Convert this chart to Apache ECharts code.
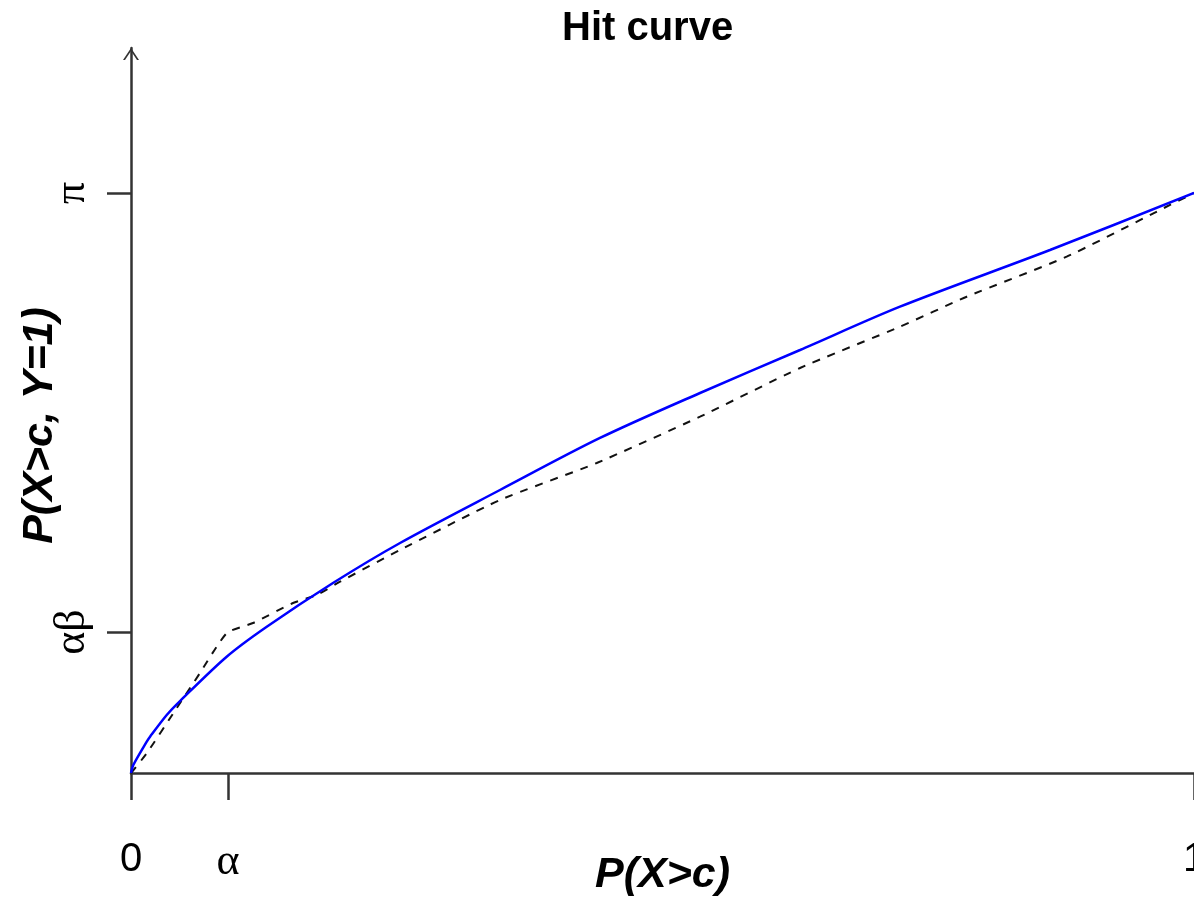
<!DOCTYPE html>
<html lang="en">
<head>
    <meta charset="UTF-8">
    <title>Hit curve</title>
    <script src="https://cdn.jsdelivr.net/npm/echarts@6/dist/echarts.min.js"></script>
    <style>
        html, body{
            margin: 0;
            padding: 0;
            background: #fff;
        }
        #chart{
            width: 1194px;
            height: 899px;
        }
    </style>
</head>
<body>
<div id="chart"></div>
<script>
    /*hit curve (blue, solid)*/
    var hitX = [0, 0.0022, 0.0148, 0.0179, 0.0336, 0.0461, 0.090, 0.1277, 0.190, 0.2531, 0.3471, 0.4412, 0.5353, 0.6294, 0.7234, 0.8645, 1];
    var hitY = [0, 0.0138, 0.054, 0.0626, 0.100, 0.1241, 0.2005, 0.2522, 0.3276, 0.3966, 0.4879, 0.5776, 0.6552, 0.7293, 0.8040, 0.9017, 1];

    /*dashed curve*/
    var dashX = [0, 0.0148, 0.043, 0.0649, 0.0806, 0.0913, 0.1148, 0.1524, 0.1747, 0.1966, 0.2531, 0.3471, 0.4381, 0.5353, 0.6294, 0.7234, 0.7862, 0.8802, 0.968, 1];
    var dashY = [0, 0.034, 0.112, 0.1724, 0.2178, 0.2431, 0.2586, 0.2931, 0.3069, 0.3298, 0.3845, 0.4707, 0.5345, 0.6143, 0.6983, 0.7695, 0.8212, 0.8902, 0.9707, 1];

    /*ticks*/
    var xTickValues = [0, 0.0913, 1];
    var xTickLabels = ['{s|0}', '{g|α}', '{s|1}'];
    var yTickValues = [0.2431, 1];
    var yTickLabels = ['αβ', 'π'];

    function pairs(xs, ys){
        var out = [];
        for (var i = 0; i < xs.length; i++) {
            out.push([xs[i], ys[i]]);
        }
        return out;
    }

    var axisColor = '#333';
    var option = {
        animation: false,
        title: {
            text: 'Hit curve',
            left: 562,
            top: 9,
            padding: 0,
            textStyle: {
                fontFamily: 'Liberation Sans',
                fontWeight: 'bold',
                fontSize: 40,
                color: '#000'
            }
        },
        grid: {
            left: 131,
            right: 0,
            top: 48,
            bottom: 126,
            containLabel: false,
            outerBoundsMode: 'none'
        },
        xAxis: {
            type: 'value',
            min: 0,
            max: 1,
            name: 'P(X>c)',
            nameLocation: 'middle',
            nameGap: 81,
            nameMoveOverlap: false,
            nameTextStyle: {
                fontFamily: 'Liberation Sans',
                fontWeight: 'bold',
                fontStyle: 'italic',
                fontSize: 43,
                color: '#000'
            },
            splitLine: {show: false},
            axisLine: {
                onZero: false,
                lineStyle: {color: axisColor, width: 2.5}
            },
            axisTick: {
                show: true,
                length: 27,
                customValues: xTickValues,
                lineStyle: {color: axisColor, width: 2.5}
            },
            axisLabel: {
                customValues: xTickValues,
                margin: 67,
                formatter: function(v){
                    return xTickLabels[xTickValues.indexOf(v)];
                },
                rich: {
                    s: {fontFamily: 'Liberation Sans', fontSize: 40, color: '#000'},
                    g: {fontFamily: 'Liberation Serif', fontSize: 44, color: '#000'}
                }
            }
        },
        yAxis: {
            type: 'value',
            min: 0,
            max: 1.25,
            name: 'P(X>c, Y=1)',
            nameLocation: 'middle',
            nameGap: 69,
            nameMoveOverlap: false,
            nameTextStyle: {
                fontFamily: 'Liberation Sans',
                fontWeight: 'bold',
                fontStyle: 'italic',
                fontSize: 43,
                color: '#000',
                padding: [0, 30, 0, 0]
            },
            splitLine: {show: false},
            axisLine: {
                show: true,
                symbol: ['none', 'path://M0,12 L8,0 L16,12 L14,12 L8,3 L2,12 Z'],
                symbolSize: [16, 12],
                symbolOffset: [0, -6],
                lineStyle: {color: axisColor, width: 2.5}
            },
            axisTick: {
                show: true,
                length: 24,
                customValues: yTickValues,
                lineStyle: {color: axisColor, width: 2.5}
            },
            axisLabel: {
                customValues: yTickValues,
                rotate: 90,
                margin: 37,
                fontFamily: 'Liberation Serif',
                fontSize: 44,
                color: '#000',
                formatter: function(v){
                    return yTickLabels[yTickValues.indexOf(v)];
                }
            }
        },
        series: [
            {
                name: 'dashed',
                type: 'line',
                data: pairs(dashX, dashY),
                showSymbol: false,
                smooth: 0.2,
                lineStyle: {color: '#111', width: 2, type: [8, 8]},
                z: 2
            },
            {
                name: 'hit',
                type: 'line',
                data: pairs(hitX, hitY),
                showSymbol: false,
                smooth: 0.3,
                lineStyle: {color: '#0000ff', width: 2.5},
                z: 3
            }
        ]
    };
    var chart = echarts.init(document.getElementById('chart'));
    chart.setOption(option);
</script>
</body>
</html>
